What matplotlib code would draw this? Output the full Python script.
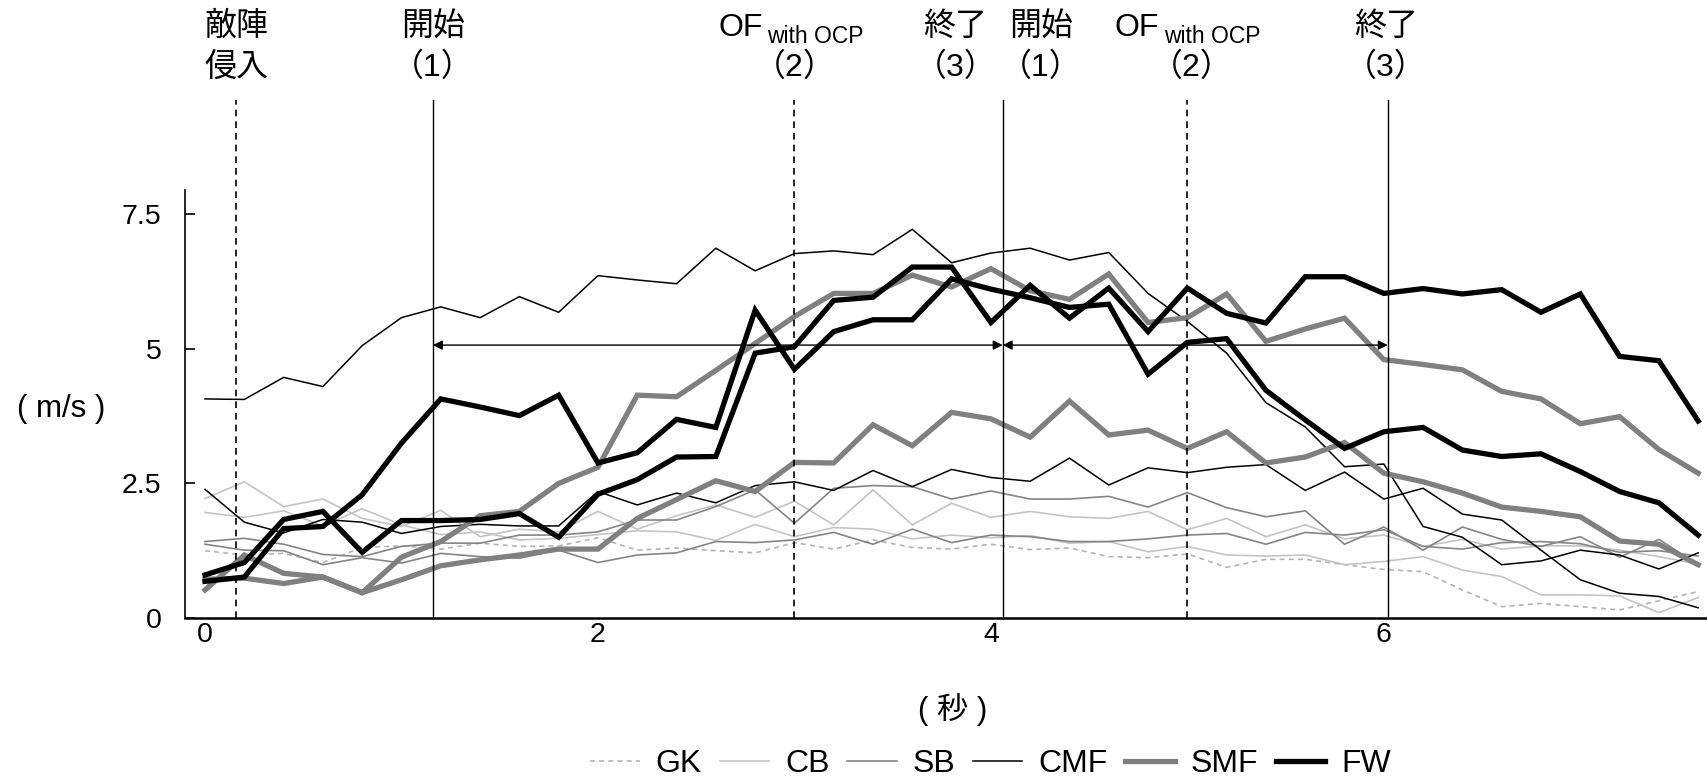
import numpy as np
import matplotlib.pyplot as plt

plt.rcParams['font.family'] = ['Liberation Sans', 'Noto Sans CJK JP']

# time axis (s), samples every 0.2 s
t = np.round(np.arange(39) * 0.2, 1)

gk = [1.25, 1.17, 1.20, 1.03, 1.31, 1.34, 1.28, 1.39, 1.33, 1.34,
      1.49, 1.26, 1.30, 1.25, 1.21, 1.40, 1.28, 1.45, 1.31, 1.28,
      1.37, 1.27, 1.30, 1.14, 1.12, 1.19, 0.94, 1.09, 1.09, 0.99,
      0.90, 0.86, 0.52, 0.21, 0.27, 0.21, 0.15, 0.32, 0.49]
cb1 = [2.22, 2.53, 2.07, 2.21, 1.85, 1.70, 2.00, 1.51, 1.65, 1.60,
       1.98, 1.65, 1.90, 2.10, 1.87, 2.17, 1.73, 2.38, 1.73, 2.13,
       1.87, 1.98, 1.88, 1.85, 1.98, 1.64, 1.85, 1.51, 1.73, 1.47,
       1.54, 1.33, 1.46, 1.28, 1.34, 1.34, 1.26, 1.14, 1.00]
cb2 = [1.96, 1.87, 1.99, 1.71, 2.03, 1.73, 1.55, 1.60, 1.45, 1.48,
       1.55, 1.62, 1.60, 1.44, 1.74, 1.51, 1.68, 1.65, 1.47, 1.54,
       1.49, 1.53, 1.39, 1.42, 1.23, 1.33, 1.17, 1.15, 1.17, 0.99,
       1.05, 1.14, 0.89, 0.77, 0.43, 0.43, 0.41, 0.10, 0.38]
sb1 = [1.42, 1.48, 1.37, 1.18, 1.14, 1.33, 1.39, 1.39, 1.54, 1.54,
       1.60, 1.82, 1.82, 2.07, 2.38, 1.76, 2.41, 2.46, 2.44, 2.21,
       2.36, 2.21, 2.21, 2.26, 2.06, 2.33, 2.05, 1.88, 1.99, 1.37,
       1.69, 1.26, 1.69, 1.46, 1.33, 1.51, 1.13, 1.46, 0.99]
sb2 = [1.37, 1.26, 1.25, 0.99, 1.12, 1.02, 1.20, 1.14, 1.11, 1.26,
       1.03, 1.17, 1.21, 1.42, 1.40, 1.45, 1.59, 1.37, 1.65, 1.40,
       1.54, 1.51, 1.42, 1.42, 1.47, 1.54, 1.57, 1.37, 1.59, 1.54,
       1.64, 1.33, 1.28, 1.40, 1.42, 1.38, 1.22, 1.25, 1.15]
cmf1 = [4.07, 4.06, 4.47, 4.30, 5.06, 5.58, 5.78, 5.58, 5.97, 5.68,
        6.36, 6.28, 6.21, 6.87, 6.45, 6.77, 6.82, 6.75, 7.22, 6.60,
        6.78, 6.87, 6.65, 6.79, 6.03, 5.51, 4.92, 4.00, 3.55, 2.81,
        2.86, 1.70, 1.50, 0.99, 1.06, 1.26, 1.17, 0.91, 1.21]
cmf2 = [2.39, 1.78, 1.58, 1.83, 1.78, 1.57, 1.70, 1.74, 1.71, 1.71,
        2.35, 2.10, 2.32, 2.14, 2.46, 2.53, 2.37, 2.74, 2.44, 2.76,
        2.61, 2.54, 2.97, 2.47, 2.79, 2.70, 2.80, 2.85, 2.37, 2.71,
        2.21, 2.41, 1.93, 1.82, 1.26, 0.71, 0.46, 0.40, 0.19]
smf1 = [0.52, 1.17, 0.83, 0.76, 0.47, 1.13, 1.42, 1.90, 1.98, 2.50,
        2.80, 4.14, 4.11, 4.60, 5.10, 5.60, 6.03, 6.03, 6.37, 6.15,
        6.49, 6.08, 5.92, 6.39, 5.49, 5.58, 6.02, 5.14, 5.37, 5.57,
        4.80, 4.71, 4.61, 4.21, 4.07, 3.61, 3.74, 3.13, 2.69]
smf2 = [0.72, 0.74, 0.64, 0.76, 0.47, 0.71, 0.97, 1.08, 1.17, 1.28,
        1.28, 1.85, 2.20, 2.55, 2.35, 2.89, 2.88, 3.59, 3.20, 3.82,
        3.70, 3.36, 4.03, 3.40, 3.49, 3.15, 3.46, 2.88, 2.99, 3.26,
        2.69, 2.53, 2.32, 2.06, 1.98, 1.88, 1.43, 1.37, 0.99]
fw1 = [0.80, 1.03, 1.83, 1.98, 1.22, 1.81, 1.81, 1.83, 1.94, 1.50,
       2.30, 2.57, 2.99, 3.00, 4.92, 5.04, 5.90, 5.96, 6.52, 6.52,
       5.49, 6.18, 5.57, 6.13, 5.32, 6.13, 5.66, 5.48, 6.34, 6.34,
       6.03, 6.12, 6.02, 6.10, 5.68, 6.02, 4.86, 4.78, 3.66]
fw2 = [0.68, 0.76, 1.66, 1.70, 2.29, 3.25, 4.07, 3.92, 3.76, 4.14,
       2.88, 3.07, 3.69, 3.54, 5.72, 4.62, 5.32, 5.54, 5.54, 6.30,
       6.11, 5.95, 5.77, 5.83, 4.53, 5.12, 5.19, 4.23, 3.68, 3.15,
       3.46, 3.54, 3.12, 3.00, 3.05, 2.72, 2.35, 2.14, 1.54]

# event markers (s)
dashed_events = [0.16, 3.0, 5.0]
solid_events = [1.16, 4.06, 6.02]
arrow_y = 5.07
yticks = [0, 2.5, 5, 7.5]
ytick_labels = ['0', '2.5', '5', '7.5']
xticks = [0, 2, 4, 6]

fig = plt.figure(figsize=(17.08, 7.79), dpi=100)
ax = fig.add_axes([0.1083, 0.2067, 0.8917, 0.5493])

styles = {
    'GK': dict(color='#b4b4b4', lw=1.2, ls=(0, (3, 2.5))),
    'CB': dict(color='#c4c4c4', lw=1.2, ls='-'),
    'SB': dict(color='#858585', lw=1.2, ls='-'),
    'CMF': dict(color='black', lw=1.1, ls='-'),
    'SMF': dict(color='#808080', lw=3.8, ls='-'),
    'FW': dict(color='black', lw=3.8, ls='-'),
}
series = [('GK', [gk]), ('CB', [cb1, cb2]), ('SB', [sb1, sb2]),
          ('CMF', [cmf1, cmf2]), ('SMF', [smf1, smf2]), ('FW', [fw1, fw2])]

handles = []
for name, lines in series:
    for k, vals in enumerate(lines):
        ln, = ax.plot(t, vals, label=name if k == 0 else None,
                      solid_joinstyle='miter', **styles[name])
        if k == 0:
            handles.append(ln)

ytop = 9.62
for x in dashed_events:
    ax.plot([x, x], [0, ytop], color='black', lw=1.2, ls=(0, (4, 3)), clip_on=False)
for x in solid_events:
    ax.plot([x, x], [0, ytop], color='black', lw=1.0, clip_on=False)

arrow_kw = dict(arrowstyle='<|-|>', color='black', lw=1.0, mutation_scale=14,
                shrinkA=0, shrinkB=0)
ax.annotate('', xy=(solid_events[1], arrow_y), xytext=(solid_events[0], arrow_y),
            arrowprops=arrow_kw)
ax.annotate('', xy=(solid_events[2], arrow_y), xytext=(solid_events[1], arrow_y),
            arrowprops=arrow_kw)

ax.set_xlim(-0.102, 7.65)
ax.set_ylim(0, 7.95)
ax.set_yticks(yticks)
ax.set_yticklabels(ytick_labels)
ax.set_xticks(xticks)
ax.tick_params(axis='y', direction='in', length=7, width=1.2, labelsize=20.5, pad=17)
ax.tick_params(axis='x', length=0, labelsize=20.5, pad=3)
for s in ['top', 'right']:
    ax.spines[s].set_visible(False)
ax.spines['left'].set_linewidth(1.2)
ax.spines['bottom'].set_linewidth(1.8)

# labels above the event lines
tr = ax.get_xaxis_transform()
y1 = (0.966 - 0.2067) / 0.5493
y2 = (0.913 - 0.2067) / 0.5493
fs = 23
top_labels = [(0.16, '敵陣', '侵入'), (1.16, '開始', '（1）'),
              (3.82, '終了', '（3）'), (4.255, '開始', '（1）'),
              (6.01, '終了', '（3）')]
for x, a, b in top_labels:
    ax.text(x, y1, a, transform=tr, ha='center', va='center', fontsize=fs)
    ax.text(x, y2, b, transform=tr, ha='center', va='center', fontsize=fs)
for x in [3.0, 5.02]:
    ax.annotate('OF', (x, y1), xycoords=tr, xytext=(-32, -2), textcoords='offset pixels',
                ha='right', va='center', fontsize=23)
    ax.annotate('with OCP', (x, y1), xycoords=tr, xytext=(-27, -10), textcoords='offset pixels',
                ha='left', va='center', fontsize=16.5)
    ax.text(x, y2, '（2）', transform=tr, ha='center', va='center', fontsize=fs)

fig.text(0.036, 1 - 409 / 779, '( m/s )', ha='center', va='center', fontsize=22.5)
fig.text(953 / 1708, 1 - 710 / 779, '( 秒 )', ha='center', va='center', fontsize=22.5)

fig.legend(handles=handles, loc='center', bbox_to_anchor=(0.58, 1 - 764 / 779),
           ncol=6, frameon=False, fontsize=23, handlelength=1.55,
           handletextpad=0.5, columnspacing=0.55)

fig.savefig('out.png', dpi=100)
